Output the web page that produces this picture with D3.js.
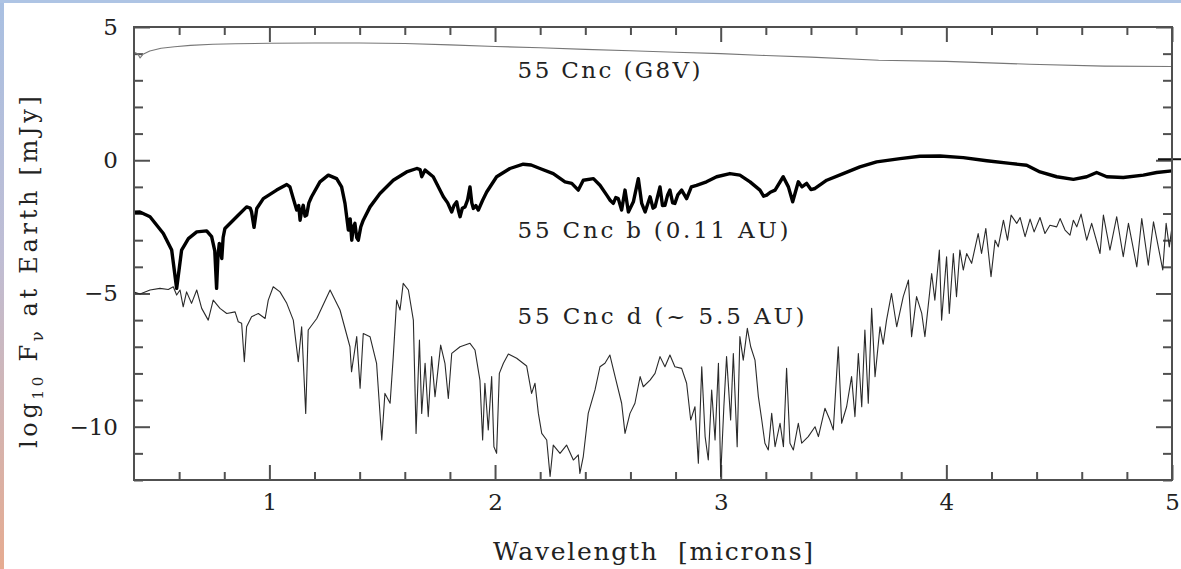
<!DOCTYPE html>
<html>
<head>
<meta charset="utf-8">
<script src="https://cdn.jsdelivr.net/npm/d3@7"></script>
<style>
  html, body { margin: 0; padding: 0; background: #fff; }
  svg { display: block; }
  text { white-space: pre; }
</style>
</head>
<body>
<svg id="chart" width="1181" height="569"></svg>
<script>
// Model spectra of 55 Cancri and two of its planets: [wavelength (microns), log10 F_nu (mJy)]
const starSpectrum = [
  [0.405, 4.04], [0.418, 3.98], [0.427, 3.84], [0.44, 3.98], [0.47, 4.10], [0.52, 4.20],
  [0.58, 4.26], [0.65, 4.31], [0.75, 4.35], [0.85, 4.37], [1.0, 4.39], [1.2, 4.40],
  [1.4, 4.40], [1.6, 4.38], [1.8, 4.33], [2.0, 4.27], [2.2, 4.22], [2.4, 4.16],
  [2.6, 4.11], [2.8, 4.05], [3.0, 4.00], [3.2, 3.93], [3.4, 3.87], [3.7, 3.75],
  [4.0, 3.71], [4.37, 3.60], [4.7, 3.53], [5.0, 3.52]
];

const planetB = [
  [0.40, -1.95], [0.426, -1.94], [0.471, -2.12], [0.53, -2.75], [0.567, -3.37], [0.589, -4.81],
  [0.611, -3.37], [0.641, -2.94], [0.678, -2.69], [0.722, -2.65], [0.744, -2.87], [0.758, -3.4],
  [0.766, -4.81], [0.772, -3.6], [0.778, -3.12], [0.789, -3.69], [0.795, -2.9], [0.803, -2.56],
  [0.855, -2.12], [0.899, -1.75], [0.915, -1.8], [0.921, -1.94], [0.932, -2.52], [0.944, -1.81],
  [0.973, -1.44], [1.032, -1.12], [1.077, -0.91], [1.091, -1.0], [1.106, -1.44], [1.121, -1.87],
  [1.13, -1.7], [1.136, -2.25], [1.143, -1.9], [1.15, -1.69], [1.158, -2.1], [1.165, -2.06],
  [1.175, -1.6], [1.187, -1.37], [1.224, -0.81], [1.261, -0.56], [1.298, -0.69], [1.32, -1.0],
  [1.335, -1.62], [1.35, -2.62], [1.358, -2.2], [1.365, -3.0], [1.372, -2.5], [1.379, -2.37],
  [1.387, -2.9], [1.394, -3.0], [1.405, -2.5], [1.416, -2.25], [1.446, -1.75], [1.49, -1.25],
  [1.549, -0.75], [1.608, -0.44], [1.653, -0.31], [1.668, -0.35], [1.675, -0.62], [1.69, -0.37],
  [1.726, -0.62], [1.771, -1.37], [1.79, -1.6], [1.808, -1.94], [1.818, -1.7], [1.83, -1.56],
  [1.838, -1.9], [1.845, -2.12], [1.855, -1.8], [1.867, -1.75], [1.878, -1.5], [1.889, -1.0],
  [1.897, -1.6], [1.904, -1.81], [1.915, -1.7], [1.926, -1.87], [1.945, -1.5], [1.963, -1.19],
  [2.007, -0.62], [2.066, -0.31], [2.125, -0.15], [2.16, -0.18], [2.199, -0.31], [2.258, -0.5],
  [2.31, -0.81], [2.34, -0.87], [2.369, -1.12], [2.391, -0.75], [2.436, -0.69], [2.465, -0.94],
  [2.495, -1.31], [2.51, -1.5], [2.524, -1.62], [2.535, -1.4], [2.546, -1.44], [2.555, -1.7],
  [2.561, -1.87], [2.576, -1.12], [2.591, -1.94], [2.613, -1.56], [2.635, -0.69], [2.65, -1.62],
  [2.665, -1.94], [2.687, -1.37], [2.7, -1.8], [2.709, -1.75], [2.731, -1.0], [2.742, -1.7],
  [2.753, -1.69], [2.765, -1.3], [2.775, -1.12], [2.787, -1.6], [2.797, -1.62], [2.81, -1.3],
  [2.827, -1.12], [2.849, -1.44], [2.87, -1.0], [2.893, -0.94], [2.937, -0.81], [2.982, -0.62],
  [3.041, -0.5], [3.085, -0.56], [3.13, -0.81], [3.174, -1.12], [3.19, -1.35], [3.204, -1.31],
  [3.22, -1.2], [3.241, -1.12], [3.277, -0.62], [3.3, -1.0], [3.319, -1.56], [3.344, -0.81],
  [3.36, -1.0], [3.381, -0.87], [3.4, -1.1], [3.418, -1.06], [3.47, -0.75], [3.543, -0.5],
  [3.617, -0.25], [3.691, -0.06], [3.795, 0.06], [3.883, 0.15], [3.972, 0.16], [4.075, 0.1],
  [4.179, -0.02], [4.282, -0.12], [4.356, -0.19], [4.415, -0.44], [4.489, -0.62], [4.563, -0.72],
  [4.622, -0.62], [4.666, -0.46], [4.711, -0.62], [4.784, -0.65], [4.873, -0.56], [4.932, -0.46],
  [5.0, -0.4]
];

const planetD = [
  [0.40, -4.95], [0.427, -5.02], [0.471, -4.87], [0.515, -4.81], [0.552, -4.85], [0.574, -4.75],
  [0.589, -5.06], [0.604, -4.87], [0.618, -5.5], [0.633, -4.94], [0.655, -5.37], [0.678, -4.87],
  [0.7, -5.56], [0.729, -6.0], [0.751, -5.25], [0.781, -5.56], [0.811, -5.75], [0.848, -5.69],
  [0.862, -6.06], [0.877, -6.12], [0.889, -7.56], [0.899, -6.25], [0.921, -5.87], [0.951, -5.75],
  [0.981, -5.94], [0.995, -5.25], [1.017, -4.75], [1.047, -4.94], [1.077, -5.37], [1.106, -6.0],
  [1.128, -7.56], [1.143, -6.25], [1.161, -9.5], [1.172, -6.37], [1.21, -5.94], [1.269, -4.87],
  [1.313, -5.62], [1.357, -7.0], [1.364, -7.94], [1.387, -6.62], [1.402, -8.56], [1.416, -6.5],
  [1.446, -6.62], [1.475, -7.62], [1.498, -10.5], [1.512, -8.75], [1.535, -9.12], [1.549, -7.37],
  [1.564, -5.25], [1.579, -5.62], [1.593, -4.62], [1.616, -4.87], [1.638, -6.0], [1.65, -10.25],
  [1.665, -6.75], [1.675, -9.5], [1.69, -7.62], [1.704, -9.62], [1.719, -7.37], [1.734, -8.87],
  [1.759, -6.94], [1.778, -7.62], [1.793, -8.94], [1.808, -7.25], [1.845, -7.0], [1.889, -6.87],
  [1.911, -7.12], [1.933, -8.25], [1.945, -10.5], [1.955, -8.37], [1.97, -10.12], [1.985, -8.12],
  [1.995, -10.75], [2.007, -11.0], [2.019, -8.0], [2.037, -7.62], [2.059, -7.27], [2.096, -7.43],
  [2.14, -7.72], [2.162, -8.75], [2.177, -8.37], [2.192, -9.5], [2.207, -10.25], [2.229, -10.5],
  [2.244, -11.87], [2.258, -10.69], [2.288, -11.0], [2.317, -10.69], [2.347, -11.25], [2.369, -11.06],
  [2.376, -11.75], [2.391, -11.12], [2.413, -9.5], [2.443, -8.62], [2.465, -7.75], [2.487, -7.62],
  [2.509, -7.31], [2.532, -8.12], [2.561, -9.12], [2.576, -10.25], [2.598, -9.5], [2.62, -9.12],
  [2.643, -8.12], [2.657, -8.5], [2.687, -8.25], [2.709, -8.0], [2.731, -7.37], [2.753, -7.75],
  [2.775, -7.31], [2.797, -7.75], [2.827, -7.81], [2.849, -8.37], [2.867, -9.75], [2.886, -9.25],
  [2.901, -11.37], [2.916, -7.75], [2.931, -10.37], [2.945, -11.25], [2.96, -8.62], [2.975, -10.5],
  [2.99, -7.62], [3.0, -11.87], [3.014, -9.25], [3.026, -7.37], [3.044, -9.75], [3.056, -7.25],
  [3.073, -10.75], [3.085, -6.62], [3.1, -7.5], [3.118, -6.31], [3.133, -7.0], [3.152, -7.5],
  [3.167, -8.87], [3.182, -9.75], [3.196, -10.62], [3.211, -10.87], [3.226, -9.5], [3.241, -10.75],
  [3.263, -9.87], [3.278, -10.75], [3.292, -7.81], [3.307, -10.62], [3.322, -10.87], [3.344, -9.87],
  [3.359, -10.62], [3.388, -10.37], [3.418, -10.0], [3.433, -10.37], [3.462, -9.31], [3.484, -9.75],
  [3.499, -10.12], [3.521, -7.0], [3.536, -9.87], [3.558, -9.25], [3.58, -8.12], [3.595, -9.62],
  [3.61, -7.25], [3.625, -9.25], [3.639, -6.37], [3.654, -9.12], [3.669, -5.56], [3.684, -8.12],
  [3.706, -6.25], [3.72, -6.9], [3.735, -6.0], [3.757, -5.0], [3.78, -6.25], [3.809, -5.12],
  [3.832, -4.5], [3.846, -6.62], [3.868, -5.12], [3.891, -5.75], [3.905, -6.62], [3.935, -4.25],
  [3.949, -5.25], [3.969, -3.37], [3.979, -6.0], [4.001, -3.62], [4.013, -5.75], [4.031, -3.5],
  [4.045, -5.12], [4.06, -3.37], [4.075, -4.12], [4.09, -3.5], [4.112, -3.87], [4.141, -2.75],
  [4.156, -3.5], [4.175, -2.56], [4.198, -4.37], [4.216, -3.0], [4.23, -3.25], [4.253, -2.25],
  [4.271, -3.0], [4.287, -2.06], [4.312, -2.37], [4.327, -2.15], [4.349, -2.87], [4.371, -2.21],
  [4.389, -2.69], [4.415, -2.15], [4.437, -2.75], [4.459, -2.44], [4.489, -2.5], [4.504, -2.19],
  [4.526, -2.62], [4.548, -2.81], [4.563, -2.25], [4.578, -2.5], [4.597, -2.02], [4.622, -3.0],
  [4.644, -2.37], [4.681, -3.5], [4.696, -2.06], [4.725, -3.37], [4.755, -2.12], [4.784, -3.62],
  [4.807, -2.37], [4.844, -4.0], [4.866, -2.19], [4.895, -3.94], [4.918, -2.31], [4.959, -4.12],
  [4.974, -2.37], [4.988, -3.25], [5.0, -2.5]
];

// Axis ticks and labels
const xMajorTicks = [1, 2, 3, 4, 5];
const yMajorTicks = [-10, -5, 0, 5];
const curveLabels = [
  { text: "55 Cnc (G8V)", at: [2.10, 3.07], width: 183 },
  { text: "55 Cnc b (0.11 AU)", at: [2.10, -2.93], width: 271 },
  { text: "55 Cnc d (~ 5.5 AU)", at: [2.10, -6.13], width: 287 }
];

const W = 1181, H = 569;
const plot = { left: 134, right: 1172, top: 27, bottom: 480 };
const serif = "'DejaVu Serif', 'Liberation Serif', serif";

const svg = d3.select("#chart");

// Window edge decoration: thin blue top bar, blue-to-salmon left bar
const defs = svg.append("defs");
const grad = defs.append("linearGradient").attr("id", "edge").attr("x1", 0).attr("y1", 0).attr("x2", 0).attr("y2", 1);
grad.append("stop").attr("offset", "0%").attr("stop-color", "#a9c0e2");
grad.append("stop").attr("offset", "45%").attr("stop-color", "#bfbdd4");
grad.append("stop").attr("offset", "100%").attr("stop-color", "#e6ab90");
svg.append("rect").attr("x", 0).attr("y", 0).attr("width", 4).attr("height", H).attr("fill", "url(#edge)");
svg.append("rect").attr("x", 0).attr("y", 0).attr("width", W).attr("height", 3).attr("fill", "#aec4e4");

const x = d3.scaleLinear().domain([0.4, 5]).range([plot.left, plot.right]);
const y = d3.scaleLinear().domain([-12, 5]).range([plot.bottom, plot.top]);

const xMinor = d3.range(6, 50, 2).map(v => v / 10).filter(v => !xMajorTicks.includes(v));
const yMinor = d3.range(-12, 5, 1).filter(v => !yMajorTicks.includes(v));

const tickColor = "#505050";
function styleAxis(g) {
  g.select(".domain").remove();
  g.selectAll(".tick line").attr("stroke", tickColor).attr("stroke-width", 2);
}

// Inward-pointing ticks on all four sides
const axes = svg.append("g");
axes.append("g").attr("transform", `translate(0,${plot.bottom})`)
  .call(d3.axisBottom(x).tickValues(xMajorTicks).tickSize(-15).tickPadding(14).tickFormat(d3.format("d")))
  .call(styleAxis)
  .call(g => g.selectAll("text").attr("font-family", serif).attr("font-size", 23).attr("fill", "#222"));
axes.append("g").attr("transform", `translate(0,${plot.bottom})`)
  .call(d3.axisBottom(x).tickValues(xMinor).tickSize(-8).tickFormat(""))
  .call(styleAxis);
axes.append("g").attr("transform", `translate(0,${plot.top})`)
  .call(d3.axisTop(x).tickValues(xMajorTicks).tickSize(-15).tickFormat(""))
  .call(styleAxis);
axes.append("g").attr("transform", `translate(0,${plot.top})`)
  .call(d3.axisTop(x).tickValues(xMinor).tickSize(-8).tickFormat(""))
  .call(styleAxis);
axes.append("g").attr("transform", `translate(${plot.left},0)`)
  .call(d3.axisLeft(y).tickValues(yMajorTicks).tickSize(-16).tickPadding(16).tickFormat(d3.format("d")))
  .call(styleAxis)
  .call(g => g.selectAll("text").attr("font-family", serif).attr("font-size", 23).attr("fill", "#222"));
axes.append("g").attr("transform", `translate(${plot.left},0)`)
  .call(d3.axisLeft(y).tickValues(yMinor).tickSize(-9).tickFormat(""))
  .call(styleAxis);
axes.append("g").attr("transform", `translate(${plot.right},0)`)
  .call(d3.axisRight(y).tickValues(yMajorTicks).tickSize(-16).tickFormat(""))
  .call(styleAxis);
axes.append("g").attr("transform", `translate(${plot.right},0)`)
  .call(d3.axisRight(y).tickValues(yMinor).tickSize(-9).tickFormat(""))
  .call(styleAxis);

// Small outward mark at zero on the right edge
svg.append("line")
  .attr("x1", plot.right - 14).attr("x2", W)
  .attr("y1", y(0) - 1).attr("y2", y(0) - 1)
  .attr("stroke", "#111").attr("stroke-width", 2);

// Spectra
const line = d3.line().x(d => x(d[0])).y(d => y(d[1]));
const curves = svg.append("g").attr("fill", "none").attr("stroke-linejoin", "round");
curves.append("path").datum(starSpectrum).attr("d", line)
  .attr("stroke", "#777").attr("stroke-width", 1.1);
curves.append("path").datum(planetD).attr("d", line)
  .attr("stroke", "#2a2a2a").attr("stroke-width", 1.1);
curves.append("path").datum(planetB).attr("d", line)
  .attr("stroke", "#000").attr("stroke-width", 3.4);

// Frame
svg.append("rect")
  .attr("x", plot.left).attr("y", plot.top)
  .attr("width", plot.right - plot.left).attr("height", plot.bottom - plot.top)
  .attr("fill", "none").attr("stroke", tickColor).attr("stroke-width", 2);

// Curve labels
svg.append("g").selectAll("text").data(curveLabels).join("text")
  .attr("x", d => x(d.at[0])).attr("y", d => y(d.at[1]))
  .attr("font-family", serif).attr("font-size", 23).attr("fill", "#222")
  .attr("textLength", d => d.width).attr("lengthAdjust", "spacing")
  .text(d => d.text);

// Axis titles
svg.append("text")
  .attr("x", 493).attr("y", 560)
  .attr("font-family", serif).attr("font-size", 25).attr("fill", "#222")
  .attr("textLength", 320).attr("lengthAdjust", "spacing")
  .text("Wavelength  [microns]");

const yTitle = svg.append("text")
  .attr("transform", "translate(37,448) rotate(-90)")
  .attr("font-family", serif).attr("font-size", 24).attr("fill", "#222")
  .attr("textLength", 352).attr("lengthAdjust", "spacing");
yTitle.append("tspan").text("log");
yTitle.append("tspan").attr("dy", 6).attr("font-size", 15).text("10");
yTitle.append("tspan").attr("dy", -6).text(" F");
yTitle.append("tspan").attr("dy", 6).attr("font-size", 16).text("ν");
yTitle.append("tspan").attr("dy", -6).text(" at Earth [mJy]");
</script>
</body>
</html>
